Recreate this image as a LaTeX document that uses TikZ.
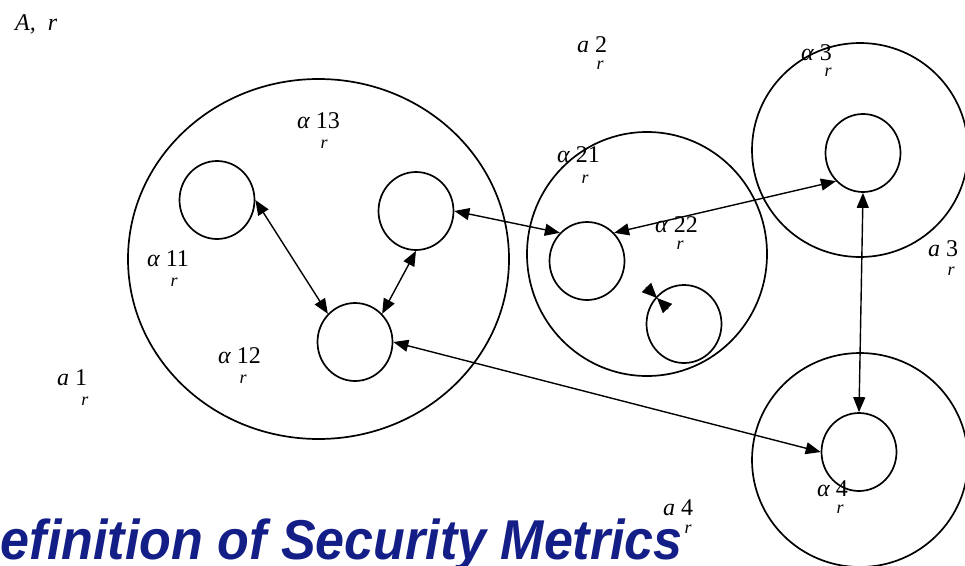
\documentclass[tikz,border=0pt]{standalone}
\usepackage{fontspec}
\setmainfont{Liberation Serif}
\newfontfamily\titlefont{Liberation Sans}
\usetikzlibrary{shapes.geometric,arrows.meta}
\definecolor{titleblue}{RGB}{20,30,135}
\begin{document}
\begin{tikzpicture}[x=1pt,y=-1pt,
  region/.style={draw, ellipse, line width=1.7pt, inner sep=0pt},
  host/.style={draw, ellipse, line width=1.7pt, inner sep=0pt, minimum width=75pt, minimum height=78pt},
  link/.style={line width=1.4pt, {Triangle[length=15pt,width=12pt]}-{Triangle[length=15pt,width=12pt]}},
  tip/.style={line width=1.4pt, -{Triangle[length=15pt,width=13pt]}},
  metric/.style={font=\fontsize{24}{24}\selectfont, inner sep=0pt, anchor=base west,
    text height=16pt, text depth=1pt},
  sub/.style={font=\fontsize{18}{18}\selectfont\itshape, inner sep=0pt, anchor=base,
    text height=8pt, text depth=0pt}]
\useasboundingbox (0,0) rectangle (965,565);

% security domains
\node[region, minimum width=381pt, minimum height=360pt] (d1) at (318.5,259) {};
\node[region, minimum width=240pt, minimum height=244pt] (d2) at (647,254) {};
\node[region, minimum width=216pt, minimum height=214pt] (d3) at (860,150) {};
\node[region, minimum width=216pt, minimum height=214pt] (d4) at (860,460) {};

% hosts
\node[host] (c11) at (217,200) {};
\node[host] (c13) at (416,211) {};
\node[host] (c12) at (355,342) {};
\node[host] (c21) at (587,261) {};
\node[host] (c22) at (684,324) {};
\node[host] (c3)  at (863,153) {};
\node[host] (c4)  at (859,452) {};

% links between hosts
\draw[link] (c11.east) -- (c12.north west);
\draw[link] (c13.south) -- (c12.north east);
\draw[link] (c13.east) -- (c21.north west);
\draw[link] (c21.north east) -- (c3.south west);
\draw[link] (c3.south) -- (c4.north);
\draw[link] (c12.east) -- (c4.west);

% self link of host 22
\coordinate (bt) at (657,298);
\coordinate (bta) at (646,287);
\coordinate (btb) at (668,309);
\draw[tip] (bta) -- (bt);
\draw[tip] (btb) -- (bt);

% labels
\node[metric, text depth=4pt] (lA) at (15,30) {\itshape A,\ \ r};

\node[metric] (la2) at (577,52) {\itshape a\upshape\ 2};
\node[sub] (ra2) at (600,69) {r};

\node[metric] (l13) at (297,128) {\itshape α\upshape\ 13};
\node[sub] (r13) at (324,148) {r};

\node[metric] (l21) at (557,162) {\itshape α\upshape\ 21};
\node[sub] (r21) at (585,183) {r};

\node[metric] (l22) at (655,232) {\itshape α\upshape\ 22};
\node[sub] (r22) at (680,249) {r};

\node[metric] (l3) at (801,60) {\itshape α\upshape\ 3};
\node[sub] (r3) at (828,76) {r};

\node[metric] (la3) at (928,256) {\itshape a\upshape\ 3};
\node[sub] (ra3) at (951,275) {r};

\node[metric] (l11) at (147,266) {\itshape α\upshape\ 11};
\node[sub] (r11) at (174,286) {r};

\node[metric] (l12) at (218,363) {\itshape α\upshape\ 12};
\node[sub] (r12) at (243,383) {r};

\node[metric] (la1) at (57,385) {\itshape a\upshape\ 1};
\node[sub] (ra1) at (85,405) {r};

\node[metric] (la4) at (663,515) {\itshape a\upshape\ 4};
\node[sub] (ra4) at (688,533) {r};

\node[metric] (l4) at (817,496) {\itshape α\upshape\ 4};
\node[sub] (r4) at (840,513) {r};

% slide title
\node[inner sep=0pt, anchor=base east, text=titleblue, yscale=1.08,
      font=\titlefont\bfseries\itshape\fontsize{52}{52}\selectfont] (title) at (683,559)
  {Definition of Security Metrics};
\end{tikzpicture}
\end{document}
